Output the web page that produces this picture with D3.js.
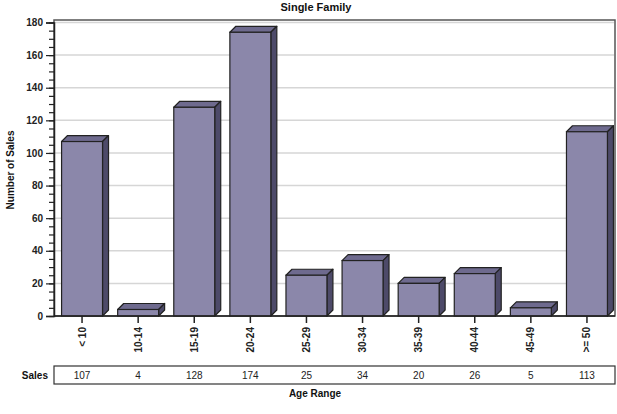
<!DOCTYPE html>
<html>
<head>
<meta charset="utf-8">
<script src="https://cdn.jsdelivr.net/npm/d3@7"></script>
<style>
  html, body { margin: 0; padding: 0; background: #fff; }
  svg { display: block; font-family: "Liberation Sans", Arial, sans-serif; }
</style>
</head>
<body>
<svg id="chart" width="617" height="414"></svg>
<script>
// Sales counts by age range of single family homes
const categories = ["< 10", "10-14", "15-19", "20-24", "25-29", "30-34", "35-39", "40-44", "45-49", ">= 50"];
const sales = [107, 4, 128, 174, 25, 34, 20, 26, 5, 113];
const yTicks = [0, 20, 40, 60, 80, 100, 120, 140, 160, 180];
const yMinorTicks = d3.range(0, 181, 5);

const svg = d3.select("#chart");
const plotLeft = 54, plotRight = 615, plotTop = 20, plotBottom = 316;
const depth = 6;

const x = d3.scaleBand().domain(categories).range([plotLeft, plotRight]).padding(0);
const barW = x.bandwidth() * 0.73;
const y = d3.scaleLinear().domain([0, 180]).range([plotBottom, 22.5]);

// Title
svg.append("text")
  .attr("x", 316).attr("y", 11)
  .attr("text-anchor", "middle")
  .attr("font-size", 11).attr("font-weight", "bold")
  .attr("fill", "#111")
  .text("Single Family");

// Plot frame
svg.append("rect")
  .attr("x", plotLeft).attr("y", plotTop)
  .attr("width", plotRight - plotLeft).attr("height", plotBottom - plotTop)
  .attr("fill", "#fff").attr("stroke", "#555").attr("stroke-width", 1.5);

// Gridlines
svg.append("g").selectAll("line")
  .data(yTicks.filter(d => d > 0))
  .join("line")
  .attr("x1", plotLeft + 1).attr("x2", plotRight - 1)
  .attr("y1", d => y(d)).attr("y2", d => y(d))
  .attr("stroke", "#d6d6d6").attr("stroke-width", 1.5);

// Bars drawn as 3D boxes: top, side, then front face
const bars = svg.append("g").selectAll("g")
  .data(categories.map((c, i) => ({ c, v: sales[i] })))
  .join("g");

const bx = d => x(d.c) + (x.bandwidth() - barW) / 2;

bars.append("polygon")
  .attr("points", d => {
    const x0 = bx(d), x1 = x0 + barW, yv = y(d.v);
    return [[x0, yv], [x0 + depth, yv - depth], [x1 + depth, yv - depth], [x1, yv]].join(" ");
  })
  .attr("fill", "#6e6a8e").attr("stroke", "#222").attr("stroke-width", 1.2)
  .attr("stroke-linejoin", "round");

bars.append("polygon")
  .attr("points", d => {
    const x1 = bx(d) + barW, yv = y(d.v), y0 = y(0);
    return [[x1, yv], [x1 + depth, yv - depth], [x1 + depth, y0 - depth], [x1, y0]].join(" ");
  })
  .attr("fill", "#4d4a69").attr("stroke", "#222").attr("stroke-width", 1.2)
  .attr("stroke-linejoin", "round");

bars.append("rect")
  .attr("x", bx)
  .attr("y", d => y(d.v))
  .attr("width", barW)
  .attr("height", d => y(0) - y(d.v))
  .attr("fill", "#8b87aa").attr("stroke", "#222").attr("stroke-width", 1.2);

// Y axis: minor ticks then labelled major ticks
svg.append("g")
  .attr("transform", `translate(${plotLeft},0)`)
  .call(d3.axisLeft(y).tickValues(yMinorTicks).tickSize(5).tickFormat(""))
  .call(g => g.select(".domain").remove())
  .selectAll("line").attr("stroke", "#222").attr("stroke-width", 1.2);

const yAxis = svg.append("g")
  .attr("transform", `translate(${plotLeft},0)`)
  .call(d3.axisLeft(y).tickValues(yTicks).tickSize(8).tickPadding(3));
yAxis.select(".domain").attr("stroke", "#222").attr("stroke-width", 1.5);
yAxis.selectAll("line").attr("stroke", "#222").attr("stroke-width", 1.2);
yAxis.selectAll("text")
  .attr("font-size", 10).attr("font-weight", "bold")
  .attr("font-family", "Liberation Sans, Arial, sans-serif")
  .attr("fill", "#222");

// Baseline
svg.append("line")
  .attr("x1", plotLeft).attr("x2", plotRight)
  .attr("y1", plotBottom).attr("y2", plotBottom)
  .attr("stroke", "#222").attr("stroke-width", 1.5);

// Y axis title
svg.append("text")
  .attr("transform", "translate(14,170) rotate(-90)")
  .attr("text-anchor", "middle")
  .attr("font-size", 10).attr("font-weight", "bold")
  .attr("fill", "#111")
  .text("Number of Sales");

// X axis with rotated category labels
const xAxis = svg.append("g")
  .attr("transform", `translate(0,${plotBottom})`)
  .call(d3.axisBottom(x).tickSize(7).tickSizeOuter(0));
xAxis.select(".domain").remove();
xAxis.selectAll("line").attr("stroke", "#222").attr("stroke-width", 1.5);
xAxis.selectAll("text")
  .attr("font-size", 10).attr("font-weight", "bold")
  .attr("font-family", "Liberation Sans, Arial, sans-serif")
  .attr("fill", "#222")
  .attr("transform", "translate(0,11) rotate(-90)")
  .attr("text-anchor", "end")
  .attr("x", 0).attr("y", 0).attr("dy", "0.35em");

// Data table beneath the axis
const tableTop = 366, tableH = 18;
svg.append("rect")
  .attr("x", plotLeft).attr("y", tableTop)
  .attr("width", plotRight - plotLeft).attr("height", tableH)
  .attr("fill", "#fff").attr("stroke", "#333").attr("stroke-width", 1.2);

svg.append("text")
  .attr("x", 48).attr("y", tableTop + tableH / 2)
  .attr("dy", "0.35em")
  .attr("text-anchor", "end")
  .attr("font-size", 10).attr("font-weight", "bold")
  .attr("fill", "#111")
  .text("Sales");

svg.append("g").selectAll("text")
  .data(categories.map((c, i) => ({ c, v: sales[i] })))
  .join("text")
  .attr("x", d => x(d.c) + x.bandwidth() / 2)
  .attr("y", tableTop + tableH / 2)
  .attr("dy", "0.35em")
  .attr("text-anchor", "middle")
  .attr("font-size", 10)
  .attr("fill", "#222")
  .text(d => d.v);

// X axis title
svg.append("text")
  .attr("x", 315).attr("y", 397)
  .attr("text-anchor", "middle")
  .attr("font-size", 10).attr("font-weight", "bold")
  .attr("fill", "#111")
  .text("Age Range");
</script>
</body>
</html>
